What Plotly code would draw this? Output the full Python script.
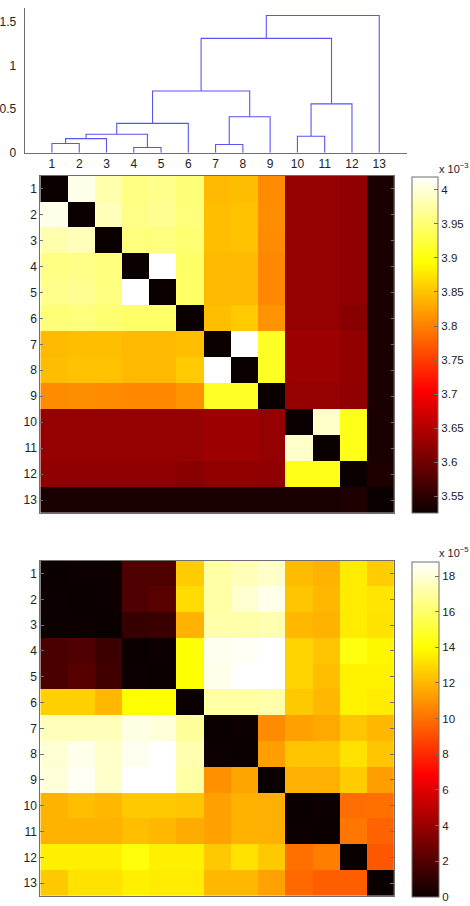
import plotly.graph_objects as go

# ---------------- data ----------------
labels = [str(i) for i in range(1, 14)]

# dendrogram linkage (MATLAB style: leaves 1..13, new nodes 14..25)
link_left = [4, 7, 1, 16, 10, 17, 19, 15, 18, 20, 23, 24]
link_right = [5, 8, 2, 3, 11, 14, 6, 9, 12, 21, 22, 13]
link_height = [0.061, 0.095, 0.106, 0.163, 0.189, 0.212, 0.337, 0.413, 0.561, 0.708, 1.311, 1.572]

D1 = 3.526
heat1 = [
    [D1, 4.008, 3.978, 3.958, 3.962, 3.952, 3.843, 3.845, 3.808, 3.628, 3.628, 3.624, 3.537],
    [4.008, D1, 3.985, 3.960, 3.965, 3.954, 3.846, 3.848, 3.810, 3.628, 3.628, 3.624, 3.537],
    [3.978, 3.985, D1, 3.955, 3.956, 3.950, 3.846, 3.848, 3.808, 3.628, 3.628, 3.624, 3.537],
    [3.958, 3.960, 3.955, D1, 4.019, 3.944, 3.842, 3.842, 3.806, 3.628, 3.628, 3.624, 3.537],
    [3.962, 3.965, 3.956, 4.019, D1, 3.944, 3.842, 3.843, 3.806, 3.628, 3.628, 3.624, 3.537],
    [3.952, 3.954, 3.950, 3.944, 3.944, D1, 3.846, 3.855, 3.815, 3.628, 3.628, 3.619, 3.537],
    [3.843, 3.846, 3.846, 3.842, 3.842, 3.846, D1, 4.019, 3.912, 3.634, 3.634, 3.626, 3.537],
    [3.845, 3.848, 3.848, 3.842, 3.843, 3.855, 4.019, D1, 3.912, 3.634, 3.634, 3.626, 3.537],
    [3.808, 3.810, 3.808, 3.806, 3.806, 3.815, 3.912, 3.912, D1, 3.628, 3.628, 3.624, 3.537],
    [3.628, 3.628, 3.628, 3.628, 3.628, 3.628, 3.634, 3.634, 3.628, D1, 3.993, 3.905, 3.537],
    [3.628, 3.628, 3.628, 3.628, 3.628, 3.628, 3.634, 3.634, 3.628, 3.993, D1, 3.905, 3.537],
    [3.624, 3.624, 3.624, 3.624, 3.624, 3.619, 3.626, 3.626, 3.624, 3.905, 3.905, D1, 3.540],
    [3.537, 3.537, 3.537, 3.537, 3.537, 3.537, 3.537, 3.537, 3.537, 3.537, 3.537, 3.540, D1],
]
heat1_range = [3.526, 4.019]
cb1_ticks = [3.55, 3.6, 3.65, 3.7, 3.75, 3.8, 3.85, 3.9, 3.95, 4.0]
cb1_text = ["3.55", "3.6", "3.65", "3.7", "3.75", "3.8", "3.85", "3.9", "3.95", "4"]

heat2 = [
    [0.0, 0.05, 0.05, 1.9, 1.9, 12.6, 17.1, 17.5, 17.8, 12.1, 11.9, 13.5, 12.6],
    [0.05, 0.0, 0.05, 1.9, 2.2, 13.0, 17.1, 17.9, 18.4, 12.4, 12.0, 13.5, 13.3],
    [0.05, 0.05, 0.0, 1.2, 1.3, 11.9, 17.2, 17.2, 17.3, 12.0, 11.9, 13.5, 13.2],
    [1.8, 1.9, 1.4, 0.0, 0.05, 14.1, 18.5, 18.6, 18.8, 12.8, 12.4, 14.3, 13.8],
    [1.8, 2.1, 1.5, 0.05, 0.0, 14.1, 18.4, 18.8, 18.8, 12.8, 12.2, 13.7, 13.7],
    [12.7, 12.7, 12.0, 14.0, 14.0, 0.0, 17.1, 17.1, 17.2, 12.5, 12.0, 13.7, 13.5],
    [17.5, 17.5, 17.5, 18.3, 18.1, 16.9, 0.0, 0.05, 10.8, 11.4, 11.6, 12.4, 12.0],
    [18.0, 18.4, 17.8, 18.5, 18.8, 17.3, 0.05, 0.0, 11.3, 12.4, 12.4, 13.2, 12.4],
    [18.1, 18.6, 17.8, 18.8, 18.8, 17.1, 10.9, 11.5, 0.0, 11.8, 11.8, 12.6, 11.3],
    [11.9, 12.2, 12.0, 12.5, 12.5, 12.4, 11.4, 11.9, 11.8, 0.0, 0.05, 9.9, 10.0],
    [11.9, 11.9, 11.9, 12.2, 12.0, 11.7, 11.4, 11.9, 11.8, 0.05, 0.0, 10.2, 9.6],
    [13.6, 13.6, 13.6, 14.2, 13.6, 13.6, 12.5, 13.2, 12.5, 10.0, 10.4, 0.0, 9.3],
    [12.5, 13.2, 13.2, 13.6, 13.5, 13.5, 12.0, 12.0, 11.4, 9.8, 9.5, 9.5, 0.0],
]
heat2_range = [0.0, 18.8]
cb2_ticks = [0, 2, 4, 6, 8, 10, 12, 14, 16, 18]

dend_yticks = [0, 0.5, 1, 1.5]
dend_ytext = ["0", "0.5", "1", "1.5"]

# ---------------- styles ----------------
W, H = 470, 906
FONT = "Liberation Sans, Arial, Helvetica, sans-serif"
AXC = "#6f6f6f"
hot = [
    [0.0, "rgb(11,0,0)"],
    [0.365, "rgb(255,0,0)"],
    [0.381, "rgb(255,11,0)"],
    [0.746, "rgb(255,255,0)"],
    [0.762, "rgb(255,255,16)"],
    [1.0, "rgb(255,255,255)"],
]


def px_x(p):
    return p / W


def dom_y(top, bottom):
    return [1 - bottom / H, 1 - top / H]


# ---------------- dendrogram geometry from linkage ----------------
n = len(labels)
node_x = {i: float(i) for i in range(1, n + 1)}
node_h = {i: 0.0 for i in range(1, n + 1)}
dx, dy = [], []
for k, (a, b, h) in enumerate(zip(link_left, link_right, link_height)):
    nid = n + 1 + k
    dx += [node_x[a], node_x[a], node_x[b], node_x[b], None]
    dy += [node_h[a], h, h, node_h[b], None]
    node_x[nid] = (node_x[a] + node_x[b]) / 2
    node_h[nid] = h

fig = go.Figure()
fig.add_trace(go.Scatter(x=dx, y=dy, mode="lines",
                         line=dict(color="#5656f0", width=1.1),
                         xaxis="x", yaxis="y", showlegend=False, hoverinfo="skip"))

tick_font = dict(family=FONT, size=12, color="#222")
cb_font = dict(family=FONT, size=11.5, color="#222")

fig.add_trace(go.Heatmap(
    z=heat1, x=list(range(1, n + 1)), y=list(range(1, n + 1)),
    zmin=heat1_range[0], zmax=heat1_range[1], colorscale=hot, zsmooth=False,
    xaxis="x2", yaxis="y2",
    colorbar=dict(x=px_x(411), xanchor="left", xpad=0, ypad=0,
                  y=1 - 347.5 / H, yanchor="middle", len=339 / H, lenmode="fraction",
                  thickness=26, thicknessmode="pixels",
                  outlinewidth=1, outlinecolor=AXC,
                  ticks="inside", ticklen=4, tickcolor=AXC,
                  tickvals=cb1_ticks, ticktext=cb1_text,
                  tickfont=cb_font)))

fig.add_trace(go.Heatmap(
    z=heat2, x=list(range(1, n + 1)), y=list(range(1, n + 1)),
    zmin=heat2_range[0], zmax=heat2_range[1], colorscale=hot, zsmooth=False,
    xaxis="x3", yaxis="y3",
    colorbar=dict(x=px_x(411), xanchor="left", xpad=0, ypad=0,
                  y=1 - 735 / H, yanchor="middle", len=338 / H, lenmode="fraction",
                  thickness=27, thicknessmode="pixels",
                  outlinewidth=1, outlinecolor=AXC,
                  ticks="inside", ticklen=4, tickcolor=AXC,
                  tickvals=cb2_ticks,
                  tickfont=cb_font)))

fig.update_layout(
    width=W, height=H, margin=dict(l=0, r=0, t=0, b=0),
    paper_bgcolor="white", plot_bgcolor="white",
    font=tick_font, showlegend=False,
    xaxis=dict(domain=[px_x(14), px_x(405)], range=[0, 14],
               tickvals=list(range(1, n + 1)), ticktext=labels,
               showline=True, linecolor=AXC, linewidth=1, ticks="",
               showgrid=False, zeroline=False, tickfont=tick_font),
    yaxis=dict(domain=dom_y(8, 154), range=[0, 146 / 88],
               tickvals=dend_yticks, ticktext=dend_ytext,
               showline=True, linecolor=AXC, linewidth=1, ticks="",
               ticklabelstandoff=5,
               showgrid=False, zeroline=False, tickfont=tick_font),
    xaxis2=dict(domain=[px_x(30), px_x(392)], range=[0.5, 13.5],
                showticklabels=False, ticks="", showline=True, mirror=True,
                linecolor=AXC, linewidth=1, showgrid=False, zeroline=False, anchor="y2"),
    yaxis2=dict(domain=dom_y(177, 517), range=[13.5, 0.5],
                tickvals=list(range(1, n + 1)), ticktext=labels,
                ticks="inside", ticklen=3, tickcolor=AXC, mirror="ticks",
                showline=True, linecolor=AXC, linewidth=1,
                showgrid=False, zeroline=False, anchor="x2", tickfont=tick_font),
    xaxis3=dict(domain=[px_x(30), px_x(392)], range=[0.5, 13.5],
                showticklabels=False, ticks="", showline=True, mirror=True,
                linecolor=AXC, linewidth=1, showgrid=False, zeroline=False, anchor="y3"),
    yaxis3=dict(domain=dom_y(565, 903), range=[13.5, 0.5],
                tickvals=list(range(1, n + 1)), ticktext=labels,
                ticks="inside", ticklen=4, tickcolor=AXC, mirror="ticks",
                showline=True, linecolor=AXC, linewidth=1,
                showgrid=False, zeroline=False, anchor="x3", tickfont=tick_font),
    annotations=[
        dict(text="x 10<sup>−3</sup>", xref="paper", yref="paper",
             x=px_x(436), y=1 - 169 / H, xanchor="left", yanchor="middle",
             showarrow=False, font=dict(family=FONT, size=11, color="#222")),
        dict(text="x 10<sup>−5</sup>", xref="paper", yref="paper",
             x=px_x(436), y=1 - 556 / H, xanchor="left", yanchor="middle",
             showarrow=False, font=dict(family=FONT, size=11, color="#222")),
    ],
)

fig.write_html("out.html")
